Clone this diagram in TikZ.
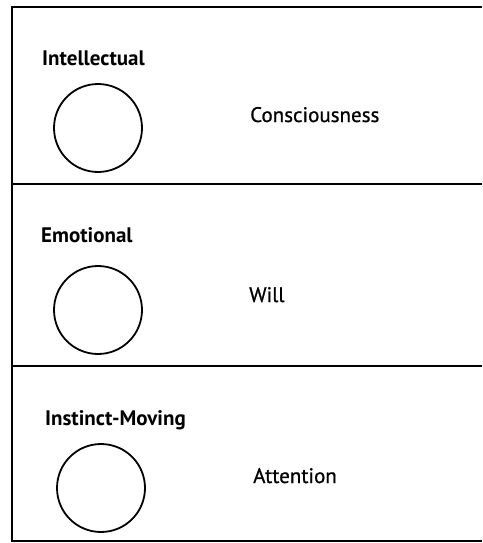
\documentclass[tikz,border=0pt]{standalone}
\usepackage{fontspec}
\setmainfont{PT Sans}[Ligatures=NoCommon]
\newfontfamily\rightfont{PT Sans}[Ligatures=NoCommon,FakeBold=0.8]
\begin{document}
\begin{tikzpicture}[x=1pt,y=-1pt,
  rule/.style={line width=1.8pt},
  centre/.style={draw,circle,line width=1.8pt,minimum size=88pt,inner sep=0pt},
  lbl/.style={font=\fontsize{21}{24}\selectfont\bfseries,anchor=base west,inner sep=0pt},
  fn/.style={font=\rightfont\fontsize{21}{24}\selectfont,anchor=base west,inner sep=0pt}]
\useasboundingbox (0,0) rectangle (482,543);
\coordinate (tl) at (12,7);
\coordinate (tr) at (482,7);
\coordinate (m1l) at (12,184);
\coordinate (m1r) at (482,184);
\coordinate (m2l) at (12,366);
\coordinate (m2r) at (482,366);
\coordinate (bl) at (12,541);
\coordinate (br) at (482,541);
\draw[rule] (tr) -- (tl) -- (bl) -- (br);
\draw[rule] (m1l) -- (m1r);
\draw[rule] (m2l) -- (m2r);
\node[centre] (c1) at (98,128) {};
\node[centre] (c2) at (98,310) {};
\node[centre] (c3) at (101,488) {};
\node[lbl] (t1) at (42,65) {Intellectual};
\node[lbl] (t2) at (41,242) {Emotional};
\node[lbl] (t3) at (45,425) {Instinct-Moving};
\node[fn] (f1) at (250,122) {Consciousness};
\node[fn] (f2) at (249,302) {Will};
\node[fn] (f3) at (253,483) {Attention};
\end{tikzpicture}
\end{document}
